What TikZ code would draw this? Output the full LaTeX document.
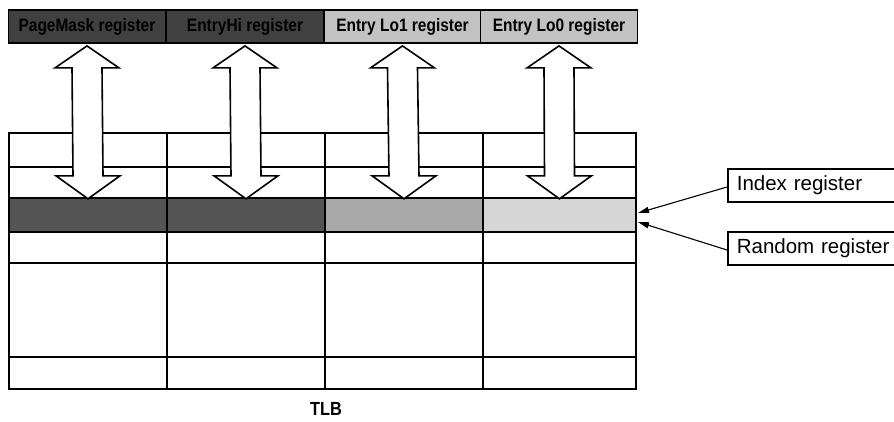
\documentclass[tikz,border=0pt]{standalone}
\usepackage{fontspec}
\setmainfont{Liberation Sans}
\newfontfamily\condfont[FakeStretch=0.86]{Liberation Sans}
\usetikzlibrary{arrows.meta,calc}
\definecolor{regdark}{gray}{0.25}
\definecolor{reglight}{gray}{0.76}
\definecolor{banddark}{gray}{0.33}
\definecolor{bandmid}{gray}{0.66}
\definecolor{bandlight}{gray}{0.84}
\tikzset{
  regbox/.style={draw=black, line width=1.8pt, minimum width=157, minimum height=33,
    inner sep=0pt, font=\condfont\bfseries\fontsize{18}{21}\selectfont},
  bandcell/.style={minimum height=34, inner sep=0pt, draw=none},
  grid/.style={line width=1.6pt},
  blockarrow/.style={draw=black, fill=white, line width=1.6pt, line join=miter},
  labelbox/.style={draw=black, line width=1.6pt, anchor=west, minimum height=33,
    text width=200, inner xsep=9pt, align=left, font=\fontsize{20.5}{24}\selectfont},
  ptr/.style={line width=1.1pt, -{Triangle[length=11pt,width=6pt]}},
}
\begin{document}
\begin{tikzpicture}[x=1pt,y=-1pt]
\clip (0,0) rectangle (894,421);
\fill[white] (0,0) rectangle (894,421);

% highlighted TLB entry (band)
\node[bandcell, fill=banddark,  minimum width=158] (b1) at (88,215) {};
\node[bandcell, fill=banddark,  minimum width=158] (b2) at (246,215) {};
\node[bandcell, fill=bandmid,   minimum width=158] (b3) at (404,215) {};
\node[bandcell, fill=bandlight, minimum width=153] (b4) at (559.5,215) {};

% TLB grid
\draw[grid] (9,167) -- (636,167);
\draw[grid] (9,198) -- (636,198);
\draw[grid] (9,232) -- (636,232);
\draw[grid] (9,263) -- (636,263);
\draw[grid] (9,357) -- (636,357);
\draw[grid] (167,133) -- (167,389);
\draw[grid] (325,133) -- (325,389);
\draw[grid] (483,133) -- (483,389);
\draw[line width=2pt] (9,133) rectangle (636,389);

% registers
\node[regbox, fill=regdark,  text=black] (r1) at (87,26.5)    {PageMask register};
\node[regbox, fill=regdark,  text=black] (r2) at (245,26.5)   {EntryHi register};
\node[regbox, fill=reglight, text=black] (r3) at (402.5,26.5) {Entry Lo1 register};
\node[regbox, fill=reglight, text=black] (r4) at (559,26.5)   {Entry Lo0 register};

% double block arrows
\foreach \i in {1,...,4}{
  \coordinate (t\i) at ($(r\i.south)+(0,2)$);
  \coordinate (u\i) at ($(b\i.north)+(0,1)$);
  \draw[blockarrow] (t\i) -- ++(32,22) -- ++(-17,0)
    -- ($(u\i)+(15,-23)$) -- ++(17,0) -- (u\i) -- ++(-32,-23) -- ++(17,0)
    -- ($(t\i)+(-15,22)$) -- ++(-17,0) -- cycle;
}

% Index / Random registers
\node[labelbox] (idx) at (727,185.5) {Index register};
\node[labelbox] (rnd) at (727,248.5) {Random register};
\coordinate (ti) at (638,213);
\coordinate (tr) at (638,222);
\draw[ptr] ($(idx.west)+(0,1.5)$) -- (ti);
\draw[ptr] ($(rnd.west)+(0,1.5)$) -- (tr);

% caption
\node[font=\condfont\bfseries\fontsize{19}{22}\selectfont] (tlb) at (326,409) {TLB};
\end{tikzpicture}
\end{document}
